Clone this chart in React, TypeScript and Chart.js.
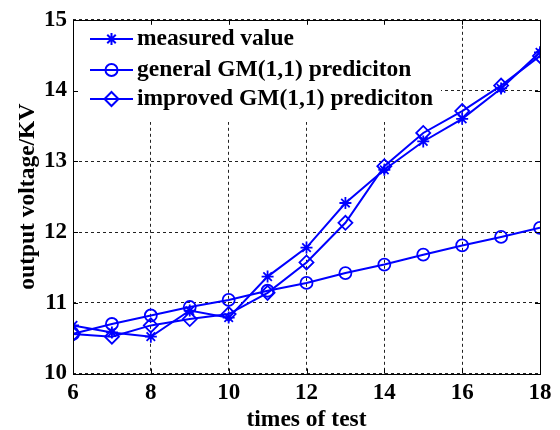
import React, { useEffect, useRef } from "react";
import { Chart, registerables } from "chart.js";

Chart.register(...registerables);

// ---------- data ----------
const testTimes = [6, 7, 8, 9, 10, 11, 12, 13, 14, 15, 16, 17, 18];
const measuredValue = [10.68, 10.58, 10.52, 10.89, 10.79, 11.37, 11.78, 12.41, 12.88, 13.28, 13.6, 14.03, 14.54];
const generalGM = [10.56, 10.7, 10.82, 10.94, 11.04, 11.17, 11.28, 11.42, 11.54, 11.68, 11.81, 11.93, 12.06];
const improvedGM = [10.56, 10.52, 10.68, 10.77, 10.84, 11.14, 11.57, 12.13, 12.93, 13.4, 13.71, 14.07, 14.49];
const xTicks = [6, 8, 10, 12, 14, 16, 18];
const yTicks = [10, 11, 12, 13, 14, 15];
const seriesLabels = ["measured value", "general GM(1,1) prediciton", "improved GM(1,1) prediciton"];
const seriesMarkers = ["star", "circle", "rectRot"];
const xTitle = "times of test";
const yTitle = "output voltage/KV";

// ---------- styles ----------
const FONT = '"Liberation Serif", "Times New Roman", Times, serif';
const BLUE = "#0000ff";

function drawMarker(ctx: CanvasRenderingContext2D, style: string, x: number, y: number) {
  ctx.beginPath();
  if (style === "star") {
    const r = 6;
    ctx.moveTo(x - r, y); ctx.lineTo(x + r, y);
    ctx.moveTo(x, y - r); ctx.lineTo(x, y + r);
    const d = r * Math.SQRT1_2;
    ctx.moveTo(x - d, y - d); ctx.lineTo(x + d, y + d);
    ctx.moveTo(x - d, y + d); ctx.lineTo(x + d, y - d);
  } else if (style === "circle") {
    ctx.arc(x, y, 6, 0, Math.PI * 2);
  } else {
    const r = 7;
    ctx.moveTo(x, y - r); ctx.lineTo(x + r, y); ctx.lineTo(x, y + r); ctx.lineTo(x - r, y); ctx.closePath();
  }
  ctx.stroke();
}

const legendPlugin = {
  id: "matlabLegend",
  afterDatasetsDraw(chart: any) {
    const { ctx, chartArea: a } = chart;
    ctx.save();
    ctx.fillStyle = "#fff";
    ctx.fillRect(a.left + 1, 20, 367, 102);
    const rows = [39, 70, 99];
    seriesLabels.forEach((label, i) => {
      const y = rows[i];
      ctx.strokeStyle = BLUE;
      ctx.lineWidth = 2;
      ctx.setLineDash([]);
      ctx.beginPath();
      ctx.moveTo(90, y);
      ctx.lineTo(133, y);
      ctx.stroke();
      drawMarker(ctx, seriesMarkers[i], 111.5, y);
      ctx.fillStyle = "#000";
      ctx.font = `bold 23.5px ${FONT}`;
      ctx.textBaseline = "middle";
      ctx.textAlign = "left";
      ctx.fillText(label, 137, y);
    });
    ctx.restore();
  },
};

const framePlugin = {
  id: "matlabFrame",
  afterDraw(chart: any) {
    const { ctx, chartArea: a, scales } = chart;
    ctx.save();
    ctx.strokeStyle = "#000";
    ctx.lineWidth = 1;
    ctx.setLineDash([]);
    ctx.strokeRect(Math.round(a.left) + 0.5, Math.round(a.top) + 0.5, Math.round(a.right - a.left), Math.round(a.bottom - a.top));
    const tl = 5;
    ctx.beginPath();
    xTicks.forEach((v) => {
      const px = Math.round(scales.x.getPixelForValue(v)) + 0.5;
      ctx.moveTo(px, a.bottom); ctx.lineTo(px, a.bottom - tl);
      ctx.moveTo(px, a.top); ctx.lineTo(px, a.top + tl);
    });
    yTicks.forEach((v) => {
      const py = Math.round(scales.y.getPixelForValue(v)) + 0.5;
      ctx.moveTo(a.left, py); ctx.lineTo(a.left + tl, py);
      ctx.moveTo(a.right, py); ctx.lineTo(a.right - tl, py);
    });
    ctx.stroke();
    ctx.restore();
  },
};

function makeDataset(label: string, values: number[], marker: string) {
  return {
    label,
    data: testTimes.map((x, i) => ({ x, y: values[i] })),
    borderColor: BLUE,
    backgroundColor: "rgba(0,0,0,0)",
    borderWidth: 2,
    pointStyle: marker,
    pointRadius: marker === "rectRot" ? 7 : 6,
    pointBorderWidth: 1.8,
    pointBorderColor: BLUE,
    pointBackgroundColor: "rgba(0,0,0,0)",
    tension: 0,
    fill: false,
  };
}

export default function App() {
  const ref = useRef<HTMLCanvasElement>(null);
  useEffect(() => {
    document.body.style.margin = "0";
    const canvas = ref.current;
    if (!canvas) return;
    const tickFont = { family: FONT, size: 23, weight: "bold" as const };
    const titleFont = { family: FONT, size: 23.5, weight: "bold" as const };
    const chart = new Chart(canvas, {
      type: "line",
      data: {
        datasets: [
          makeDataset(seriesLabels[0], measuredValue, seriesMarkers[0]),
          makeDataset(seriesLabels[1], generalGM, seriesMarkers[1]),
          makeDataset(seriesLabels[2], improvedGM, seriesMarkers[2]),
        ],
      },
      options: {
        animation: false,
        responsive: false,
        layout: { padding: { top: 15, right: 20, left: 0, bottom: 0 } },
        plugins: { legend: { display: false }, tooltip: { enabled: false } },
        scales: {
          x: {
            type: "linear",
            min: 6,
            max: 18,
            afterBuildTicks: (s: any) => { s.ticks = xTicks.map((v) => ({ value: v })); },
            ticks: { color: "#000", font: tickFont, padding: 6, maxRotation: 0 },
            grid: { color: "#222", lineWidth: 1, drawTicks: false },
            border: { display: false, dash: [3, 3] },
            title: { display: true, text: xTitle, color: "#000", font: titleFont, padding: { top: 0, bottom: -4 } },
            afterFit: (s: any) => { s.height = 56.5; },
          },
          y: {
            type: "linear",
            min: 10,
            max: 15,
            afterBuildTicks: (s: any) => { s.ticks = yTicks.map((v) => ({ value: v })); },
            ticks: { color: "#000", font: tickFont, padding: 6 },
            grid: { color: "#222", lineWidth: 1, drawTicks: false },
            border: { display: false, dash: [3, 3] },
            title: { display: true, text: yTitle, color: "#000", font: titleFont, padding: { top: 14, bottom: 0 } },
            afterFit: (s: any) => { s.width = 73; },
          },
        },
      },
      plugins: [legendPlugin, framePlugin],
    } as any);
    return () => chart.destroy();
  }, []);
  return <canvas ref={ref} width={560} height={430} style={{ display: "block" }} />;
}
